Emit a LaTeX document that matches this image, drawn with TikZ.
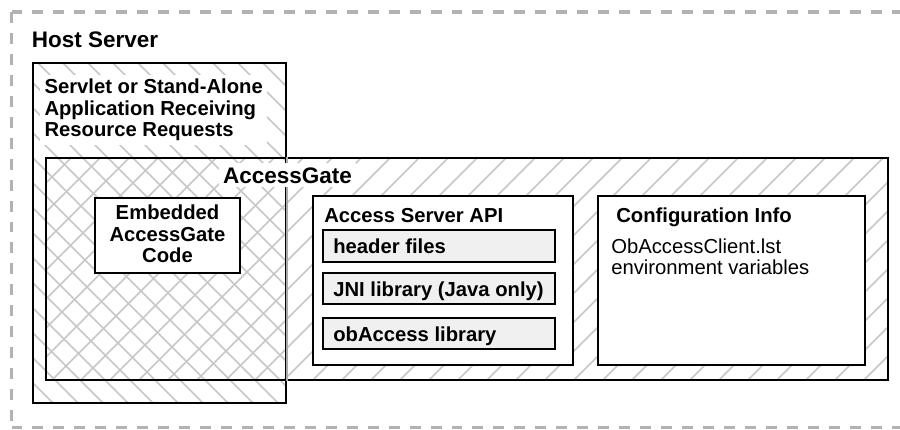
\documentclass[tikz,border=0pt]{standalone}
\usepackage{fontspec}
\setmainfont{Liberation Sans}
\usetikzlibrary{fit}

\tikzset{
  hostframe/.style={draw=black!30, line width=2.8pt, dash pattern=on 7.8pt off 7.1pt},
  frame/.style={draw=black, line width=1.4pt, inner sep=0pt},
  libbox/.style={frame, fill=black!6},
  hatchline/.style={draw=black!22, line width=1.1pt},
  title/.style={font=\fontsize{16}{18}\selectfont\bfseries, inner sep=0pt},
  heading/.style={font=\fontsize{14.4}{15.4}\selectfont\bfseries, inner sep=0pt},
  plain/.style={font=\fontsize{14.4}{15}\selectfont, inner sep=0pt},
}

\begin{document}
\begin{tikzpicture}[x=0.025cm, y=-0.025cm]
\useasboundingbox (0,0) rectangle (900,429);
\clip (0,0) rectangle (900,429);
% host server, open on the right
\coordinate (hosttl) at (11.5,12);
\coordinate (hostbl) at (11.5,427.5);
\draw[hostframe] (hosttl) -- ++(920,0);
\draw[hostframe] (hosttl) -- (hostbl);
\draw[hostframe] (hostbl) -- ++(920,0);
\node[title, anchor=base west] (hostlbl) at (31.5,47) {Host Server};
% hatching
\begin{scope}
  \clip (33,63) rectangle (286,403);
  \foreach \c in {-400,-375,...,300}
    \draw[hatchline] (\c,0) -- ++(500,500);
\end{scope}
\begin{scope}
  \clip (46,158) rectangle (888,380);
  \foreach \c in {200,229,...,1290}
    \draw[hatchline] (\c,0) -- ++(-500,500);
\end{scope}
\node[frame, fit={(33,63)(286,403)}] (servlet) {};
\node[frame, fit={(46,158)(888,380)}] (gate) {};
\draw[black!33, line width=1.4pt] (servlet.east |- gate.north) -- (servlet.east |- gate.south);
\node[heading, fill=white, inner sep=3pt, anchor=north west, align=left] (servletlbl) at (40,74.5) {Servlet or Stand-Alone\\Application Receiving\\Resource Requests};
\node[title, fill=white, inner sep=3pt, anchor=base] (gatelbl) at (287.5,183) {AccessGate};
% embedded code
\node[frame, fill=white, fit={(95,198)(240,273)}] (embed) {};
\node[heading, align=center] (embedlbl) at (167.5,234) {Embedded\\AccessGate\\Code};
% access server api
\node[frame, fill=white, fit={(313,196)(573,365)}] (api) {};
\node[heading, anchor=base west] (apilbl) at (324,222) {Access Server API};
\node[libbox, fit={(323,230)(555,262)}] (hdr) {};
\node[heading, anchor=base west] (hdrlbl) at (333,253) {header files};
\node[libbox, fit={(323,273)(555,304)}] (jni) {};
\node[heading, anchor=base west] (jnilbl) at (333,296.5) {JNI library (Java only)};
\node[libbox, fit={(323,318)(555,349)}] (obacc) {};
\node[heading, anchor=base west] (obacclbl) at (333,341) {obAccess library};
% configuration
\node[frame, fill=white, fit={(598,196)(865,365)}] (config) {};
\node[heading, anchor=base west] (configlbl) at (616,222) {Configuration Info};
\node[plain, anchor=north west, align=left] (configtxt) at (611,238.5) {ObAccessClient.lst\\environment variables};
\end{tikzpicture}
\end{document}
